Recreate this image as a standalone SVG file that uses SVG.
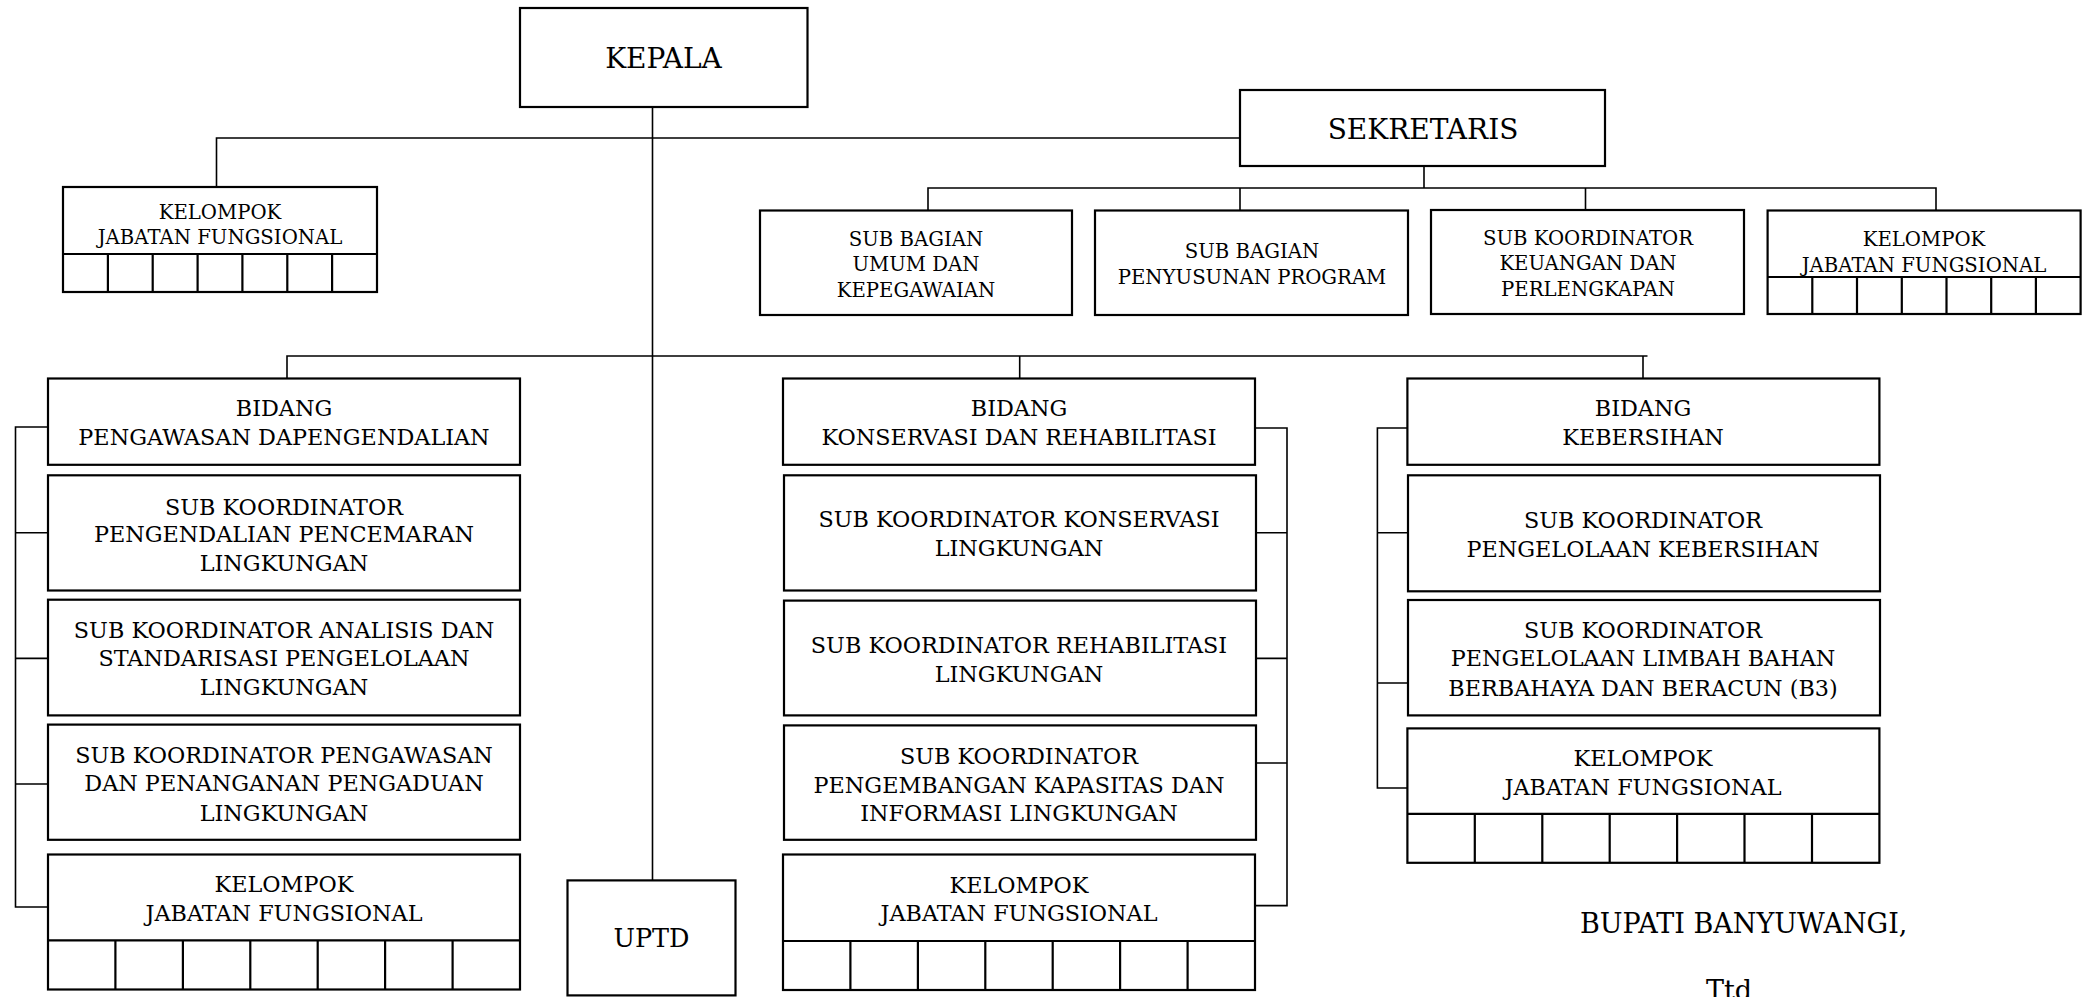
<svg xmlns="http://www.w3.org/2000/svg" width="2084" height="997" viewBox="0 0 2084 997">
<style>
.box{fill:#fff;stroke:#000;stroke-width:2.2}
.cell{fill:none;stroke:#000;stroke-width:2.2}
.conn{fill:none;stroke:#000;stroke-width:1.6}
text{font-family:"DejaVu Serif","Liberation Serif",serif;fill:#000;text-anchor:middle}
.big{font-size:28px}
.sm{font-size:19.7px}
.md{font-size:22.3px}
</style>
<rect width="2084" height="997" fill="#fff"/>
<g id="connectors">
<path class="conn" d="M652.5 106V880"/>
<path class="conn" d="M216.5 187V138H1240"/>
<path class="conn" d="M1424 166V188M928 210V188H1936V210M1240 188V210M1585.5 188V210"/>
<path class="conn" d="M287 378.5V356H1647.5M1019.7 356V378.5M1643 356V378.5"/>
<path class="conn" d="M48 427H15.5V907H48M15.5 532.7H48M15.5 658.4H48M15.5 784H48"/>
<path class="conn" d="M1255 428H1287V905.6H1255M1287 532.7H1255M1287 658.4H1255M1287 763H1255"/>
<path class="conn" d="M1407 428H1377.4V788H1407M1377.4 532.7H1407M1377.4 683H1407"/>
</g>
<g id="kepala"><rect class="box" x="520" y="8" width="287.5" height="99"/><text class="big" x="663.5" y="67.7">KEPALA</text></g>
<g id="sekretaris"><rect class="box" x="1240" y="90" width="365" height="76"/><text class="big" x="1423" y="138.7">SEKRETARIS</text></g>
<g id="kelompok-top-left">
<rect class="box" x="63" y="187" width="314" height="105"/>
<path class="cell" d="M63 254H377M107.9 254V292M152.7 254V292M197.6 254V292M242.4 254V292M287.3 254V292M332.1 254V292"/>
<text class="sm" x="220" y="219">KELOMPOK</text><text class="sm" x="220" y="244">JABATAN FUNGSIONAL</text>
</g>
<g id="subbag-umum"><rect class="box" x="760" y="210.5" width="312" height="104.5"/>
<text class="sm" x="916" y="246">SUB BAGIAN</text><text class="sm" x="916" y="271">UMUM DAN</text><text class="sm" x="916" y="297">KEPEGAWAIAN</text></g>
<g id="subbag-program"><rect class="box" x="1095" y="210.5" width="313" height="104.5"/>
<text class="sm" x="1252" y="258">SUB BAGIAN</text><text class="sm" x="1252" y="284">PENYUSUNAN PROGRAM</text></g>
<g id="subkoor-keuangan"><rect class="box" x="1431" y="210" width="313" height="104"/>
<text class="sm" x="1588" y="245">SUB KOORDINATOR</text><text class="sm" x="1588" y="270">KEUANGAN DAN</text><text class="sm" x="1588" y="296">PERLENGKAPAN</text></g>
<g id="kelompok-top-right">
<rect class="box" x="1767.6" y="210.5" width="313" height="103.5"/>
<path class="cell" d="M1767.6 277H2080.6M1812.3 277V314M1857 277V314M1901.8 277V314M1946.5 277V314M1991.2 277V314M2035.9 277V314"/>
<text class="sm" x="1924" y="246">KELOMPOK</text><text class="sm" x="1924" y="272">JABATAN FUNGSIONAL</text>
</g>
<g id="bidang-pengawasan"><rect class="box" x="48" y="378.5" width="472" height="86.3"/>
<text class="md" x="284" y="416">BIDANG</text><text class="md" x="284" y="445">PENGAWASAN DAPENGENDALIAN</text></g>
<g id="subkoor-pencemaran"><rect class="box" x="48" y="475.3" width="472" height="115.2"/>
<text class="md" x="284" y="514.7">SUB KOORDINATOR</text><text class="md" x="284" y="542">PENGENDALIAN PENCEMARAN</text><text class="md" x="284" y="571">LINGKUNGAN</text></g>
<g id="subkoor-analisis"><rect class="box" x="48" y="599.7" width="472" height="115.7"/>
<text class="md" x="284" y="638">SUB KOORDINATOR ANALISIS DAN</text><text class="md" x="284" y="666.4">STANDARISASI PENGELOLAAN</text><text class="md" x="284" y="695">LINGKUNGAN</text></g>
<g id="subkoor-pengaduan"><rect class="box" x="48" y="724.6" width="472" height="115.2"/>
<text class="md" x="284" y="763">SUB KOORDINATOR PENGAWASAN</text><text class="md" x="284" y="791">DAN PENANGANAN PENGADUAN</text><text class="md" x="284" y="820.6">LINGKUNGAN</text></g>
<g id="kelompok-pengawasan"><rect class="box" x="48" y="854.5" width="472" height="135"/>
<path class="cell" d="M48 940.3H520M115.4 940.3V989.5M182.9 940.3V989.5M250.3 940.3V989.5M317.7 940.3V989.5M385.1 940.3V989.5M452.6 940.3V989.5"/>
<text class="md" x="284" y="892">KELOMPOK</text><text class="md" x="284" y="921">JABATAN FUNGSIONAL</text></g>
<g id="uptd"><rect class="box" x="567.5" y="880.4" width="168" height="115"/><text style="font-size:25.5px" x="651.5" y="947.3">UPTD</text></g>
<g id="bidang-konservasi"><rect class="box" x="783" y="378.5" width="472" height="86.3"/>
<text class="md" x="1019" y="416">BIDANG</text><text class="md" x="1019" y="445">KONSERVASI DAN REHABILITASI</text></g>
<g id="subkoor-konservasi"><rect class="box" x="784" y="475.3" width="472" height="115.2"/>
<text class="md" x="1019" y="527.3">SUB KOORDINATOR KONSERVASI</text><text class="md" x="1019" y="556.2">LINGKUNGAN</text></g>
<g id="subkoor-rehabilitasi"><rect class="box" x="784" y="600.6" width="472" height="114.8"/>
<text class="md" x="1019" y="652.6">SUB KOORDINATOR REHABILITASI</text><text class="md" x="1019" y="682">LINGKUNGAN</text></g>
<g id="subkoor-kapasitas"><rect class="box" x="784" y="725.4" width="472" height="114.4"/>
<text class="md" x="1019" y="764">SUB KOORDINATOR</text><text class="md" x="1019" y="793">PENGEMBANGAN KAPASITAS DAN</text><text class="md" x="1019" y="820.6">INFORMASI LINGKUNGAN</text></g>
<g id="kelompok-konservasi"><rect class="box" x="783" y="854.5" width="472" height="135.5"/>
<path class="cell" d="M783 941H1255M850.4 941V990M917.9 941V990M985.3 941V990M1052.7 941V990M1120.1 941V990M1187.6 941V990"/>
<text class="md" x="1019" y="892.6">KELOMPOK</text><text class="md" x="1019" y="921">JABATAN FUNGSIONAL</text></g>
<g id="bidang-kebersihan"><rect class="box" x="1407.4" y="378.5" width="472" height="86.3"/>
<text class="md" x="1643" y="416">BIDANG</text><text class="md" x="1643" y="445">KEBERSIHAN</text></g>
<g id="subkoor-kebersihan"><rect class="box" x="1408" y="475.3" width="472" height="116"/>
<text class="md" x="1643" y="528">SUB KOORDINATOR</text><text class="md" x="1643" y="556.6">PENGELOLAAN KEBERSIHAN</text></g>
<g id="subkoor-limbah"><rect class="box" x="1408" y="600" width="472" height="115.4"/>
<text class="md" x="1643" y="638">SUB KOORDINATOR</text><text class="md" x="1643" y="666.4">PENGELOLAAN LIMBAH BAHAN</text><text class="md" x="1643" y="695.7">BERBAHAYA DAN BERACUN (B3)</text></g>
<g id="kelompok-kebersihan"><rect class="box" x="1407.4" y="728.4" width="472" height="134.4"/>
<path class="cell" d="M1407.4 813.8H1879.4M1474.8 813.8V862.8M1542.3 813.8V862.8M1609.7 813.8V862.8M1677.1 813.8V862.8M1744.5 813.8V862.8M1812 813.8V862.8"/>
<text class="md" x="1643" y="766">KELOMPOK</text><text class="md" x="1643" y="795.4">JABATAN FUNGSIONAL</text></g>
<g id="signature">
<text style="font-size:27px" x="1743.7" y="932.8">BUPATI BANYUWANGI,</text>
<text style="font-size:27px" x="1729" y="1000">Ttd</text>
</g>
</svg>
